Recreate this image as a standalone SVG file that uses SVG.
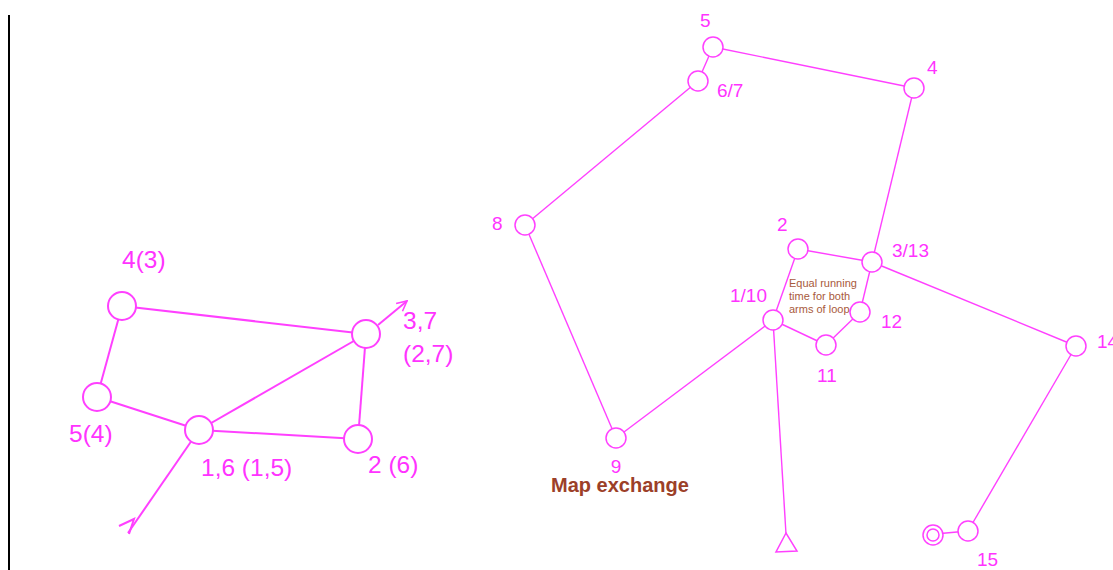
<svg xmlns="http://www.w3.org/2000/svg" width="1113" height="570" viewBox="0 0 1113 570">
<style>
.bg{fill:#ffffff}
.e{stroke:#ff40ff;fill:none;stroke-width:1.4}
.eL{stroke:#ff40ff;fill:none;stroke-width:2}
.n{stroke:#ff40ff;fill:#ffffff;stroke-width:1.5}
.nL{stroke:#ff40ff;fill:#ffffff;stroke-width:2}
.t{font-family:"Liberation Sans",Arial,sans-serif;fill:#ff33ff}
.tL{font-size:24.5px}
.tR{font-size:19px}
.note{font-family:"Liberation Sans",Arial,sans-serif;fill:#a85a3c;font-size:11px}
.mx{font-family:"Liberation Sans",Arial,sans-serif;fill:#9c4028;font-size:20px;font-weight:bold}
</style>
<defs>
<marker id="open" viewBox="0 0 12 12" refX="11" refY="6" markerWidth="12" markerHeight="12" markerUnits="userSpaceOnUse" orient="auto">
<path d="M1,1 L11,6 L1,11" fill="none" stroke="#ff40ff" stroke-width="1.6"/>
</marker>
</defs>
<rect class="bg" width="1113" height="570"/>
<line x1="9" y1="15" x2="9" y2="570" stroke="#000" stroke-width="2"/>
<g id="connectors">
<line class="eL" x1="122" y1="306" x2="366" y2="334"/>
<line class="eL" x1="122" y1="306" x2="97" y2="397"/>
<line class="eL" x1="97" y1="397" x2="199" y2="430"/>
<line class="eL" x1="199" y1="430" x2="366" y2="334"/>
<line class="eL" x1="199" y1="430" x2="358" y2="439"/>
<line class="eL" x1="358" y1="439" x2="366" y2="334"/>
<line class="eL" x1="378" y1="325" x2="407" y2="301" marker-end="url(#open)"/>
<line class="eL" x1="199" y1="430" x2="128" y2="533"/>
<polyline class="eL" points="119,526 134,519 129,534"/>
<line class="e" x1="713" y1="47" x2="698" y2="81"/>
<line class="e" x1="713" y1="47" x2="914" y2="88"/>
<line class="e" x1="914" y1="88" x2="872" y2="262"/>
<line class="e" x1="698" y1="81" x2="525" y2="225"/>
<line class="e" x1="525" y1="225" x2="616" y2="438"/>
<line class="e" x1="616" y1="438" x2="773" y2="320"/>
<line class="e" x1="773" y1="320" x2="798" y2="249"/>
<line class="e" x1="798" y1="249" x2="872" y2="262"/>
<line class="e" x1="872" y1="262" x2="860" y2="312"/>
<line class="e" x1="860" y1="312" x2="826" y2="345"/>
<line class="e" x1="826" y1="345" x2="773" y2="320"/>
<line class="e" x1="872" y1="262" x2="1076" y2="346"/>
<line class="e" x1="1076" y1="346" x2="968" y2="531"/>
<line class="e" x1="968" y1="531" x2="935" y2="534"/>
<line class="e" x1="773" y1="320" x2="786" y2="534"/>
</g>
<g id="n43"><circle class="nL" cx="122" cy="306" r="14"/><text class="t tL" x="122" y="268">4(3)</text></g>
<g id="n37"><circle class="nL" cx="366" cy="334" r="14"/><text class="t tL" x="403" y="329">3,7</text><text class="t tL" x="403" y="362">(2,7)</text></g>
<g id="n54"><circle class="nL" cx="97" cy="397" r="14"/><text class="t tL" x="69" y="442">5(4)</text></g>
<g id="n16"><circle class="nL" cx="199" cy="430" r="14"/><text class="t tL" x="201" y="476">1,6 (1,5)</text></g>
<g id="n26"><circle class="nL" cx="358" cy="439" r="14"/><text class="t tL" x="368" y="473">2 (6)</text></g>
<g id="r5"><circle class="n" cx="713" cy="47" r="10"/><text class="t tR" x="700" y="27">5</text></g>
<g id="r67"><circle class="n" cx="698" cy="81" r="10"/><text class="t tR" x="717" y="97">6/7</text></g>
<g id="r4"><circle class="n" cx="914" cy="88" r="10"/><text class="t tR" x="927" y="74">4</text></g>
<g id="r8"><circle class="n" cx="525" cy="225" r="10"/><text class="t tR" x="492" y="230">8</text></g>
<g id="r2"><circle class="n" cx="798" cy="249" r="10"/><text class="t tR" x="777" y="231">2</text></g>
<g id="r313"><circle class="n" cx="872" cy="262" r="10"/><text class="t tR" x="892" y="257">3/13</text></g>
<g id="r110"><circle class="n" cx="773" cy="320" r="10"/><text class="t tR" x="730" y="302">1/10</text></g>
<g id="r12"><circle class="n" cx="860" cy="312" r="10"/><text class="t tR" x="881" y="328">12</text></g>
<g id="r11"><circle class="n" cx="826" cy="345" r="10"/><text class="t tR" x="817" y="382">11</text></g>
<g id="r14"><circle class="n" cx="1076" cy="346" r="10"/><text class="t tR" x="1097" y="348">14</text></g>
<g id="r9"><circle class="n" cx="616" cy="438" r="10"/><text class="t tR" x="616" y="473" text-anchor="middle">9</text><text class="mx" x="551" y="492">Map exchange</text></g>
<g id="r15"><circle class="n" cx="968" cy="531" r="10"/><text class="t tR" x="977" y="566">15</text></g>
<g id="finish"><circle class="n" cx="933" cy="535" r="10"/><circle class="n" cx="933" cy="535" r="6"/></g>
<g id="start"><polygon class="n" points="786,533 776,552 797,551"/></g>
<g id="note"><text class="note" x="789" y="287">Equal running</text><text class="note" x="789" y="300">time for both</text><text class="note" x="789" y="313">arms of loop</text></g>
</svg>
